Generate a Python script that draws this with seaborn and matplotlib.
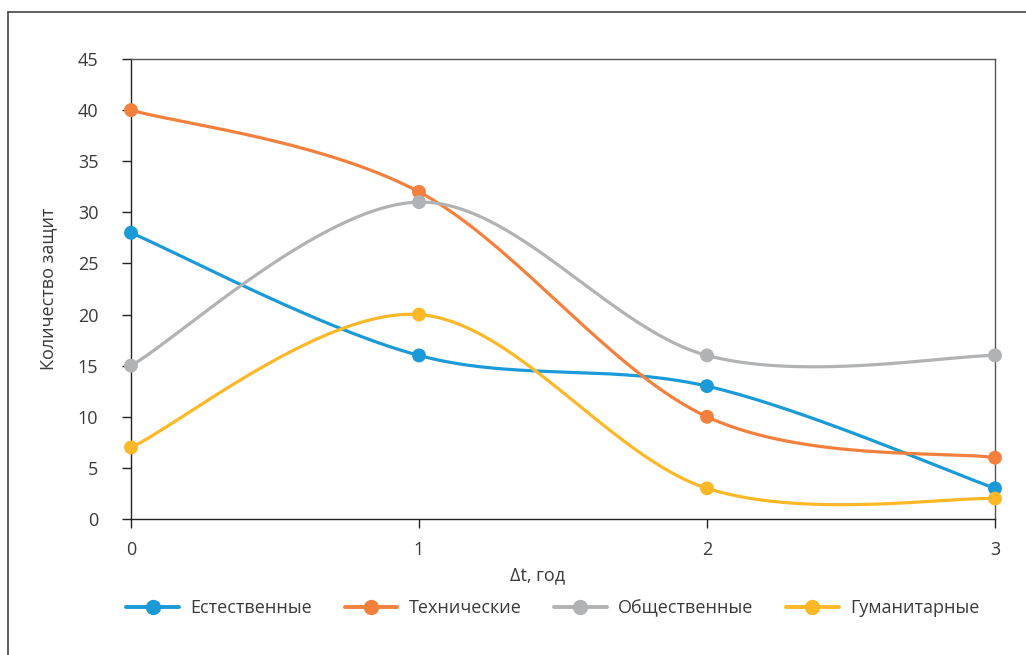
import numpy as np
import pandas as pd
import matplotlib
matplotlib.use("Agg")
import matplotlib.pyplot as plt
from matplotlib.lines import Line2D
import seaborn as sns

# ---- data ----
x_vals = [0, 1, 2, 3]
series_names = ["Естественные", "Технические", "Общественные", "Гуманитарные"]
natural = [28, 16, 13, 3]
technical = [40, 32, 10, 6]
social = [15, 31, 16, 16]
humanities = [7, 20, 3, 2]
colors = ["#1A9AD6", "#F4803D", "#B1B2B4", "#FDB827"]
y_ticks = [0, 5, 10, 15, 20, 25, 30, 35, 40, 45]
x_label = "Δt, год"
y_label = "Количество защит"

sns.set_style("white")
plt.rcParams["font.family"] = ["Open Sans", "DejaVu Sans"]
TXT = "#3a3a3a"
FS = 13


def excel_smooth(xs, ys, n=60):
    p = np.column_stack([xs, ys]).astype(float)
    ext = np.vstack([p[0], p, p[-1]])
    out = []
    t = np.linspace(0, 1, n)[:, None]
    for i in range(len(p) - 1):
        p0 = ext[i + 1]
        p3 = ext[i + 2]
        c1 = p0 + (ext[i + 2] - ext[i]) / 6.0
        c2 = p3 - (ext[i + 3] - ext[i + 1]) / 6.0
        seg = ((1 - t) ** 3) * p0 + 3 * ((1 - t) ** 2) * t * c1 + 3 * (1 - t) * t ** 2 * c2 + t ** 3 * p3
        out.append(seg if i == 0 else seg[1:])
    s = np.vstack(out)
    return s[:, 0], s[:, 1]


all_series = [natural, technical, social, humanities]
rows = []
pts = []
for name, vals in zip(series_names, all_series):
    sx, sy = excel_smooth(x_vals, vals)
    for a, b in zip(sx, sy):
        rows.append({"x": a, "y": b, "s": name})
    for a, b in zip(x_vals, vals):
        pts.append({"x": a, "y": b, "s": name})
curve = pd.DataFrame(rows)
points = pd.DataFrame(pts)
palette = dict(zip(series_names, colors))

W, H = 1026, 655
fig = plt.figure(figsize=(W / 100, H / 100), dpi=100)
ax = fig.add_axes([131 / W, 1 - 519 / H, (995 - 131) / W, (519 - 59) / H])

sns.lineplot(data=curve, x="x", y="y", hue="s", palette=palette, sort=False,
             estimator=None, linewidth=2.3, ax=ax, legend=False)
sns.scatterplot(data=points, x="x", y="y", hue="s", palette=palette, s=100,
                edgecolor="none", ax=ax, legend=False, zorder=5)

ax.set_xlim(0, 3)
ax.set_ylim(0, 45)
ax.set_xticks(x_vals)
ax.set_yticks(y_ticks)
ax.set_xlabel("")
ax.set_ylabel("")
for sp in ["left", "bottom"]:
    ax.spines[sp].set_color("#222222")
    ax.spines[sp].set_linewidth(1.0)
for sp in ["top", "right"]:
    ax.spines[sp].set_color("#555555")
    ax.spines[sp].set_linewidth(1.0)
ax.tick_params(axis="both", direction="out", length=6.5, width=1.0, color="#222222",
               labelsize=FS, labelcolor=TXT, bottom=True, left=True)
ax.tick_params(axis="x", pad=9)
ax.tick_params(axis="y", pad=17)
for coll in ax.collections:
    coll.set_clip_on(False)

fig.text(538 / W, 1 - 575 / H, x_label, ha="center", va="center", fontsize=FS, color=TXT)
fig.text(48 / W, 1 - 289 / H, y_label, ha="center", va="center", rotation=90,
         fontsize=FS, color=TXT)

handles = [Line2D([0], [0], color=c, lw=2.8, marker="o", markersize=10) for c in colors]
fig.legend(handles, series_names, loc="center", bbox_to_anchor=(553 / W, 1 - 608 / H),
           ncol=4, frameon=False, fontsize=FS, handlelength=2.9, handletextpad=0.65,
           columnspacing=1.8, labelcolor=TXT)

# outer frame (top and left visible)
fig.add_artist(Line2D([8 / W, 8 / W], [0, 1 - 12 / H], transform=fig.transFigure,
                      color="#444444", lw=1.2))
fig.add_artist(Line2D([8 / W, 1], [1 - 12 / H, 1 - 12 / H], transform=fig.transFigure,
                      color="#444444", lw=1.2))

fig.savefig("out.png", dpi=100, facecolor="white")
